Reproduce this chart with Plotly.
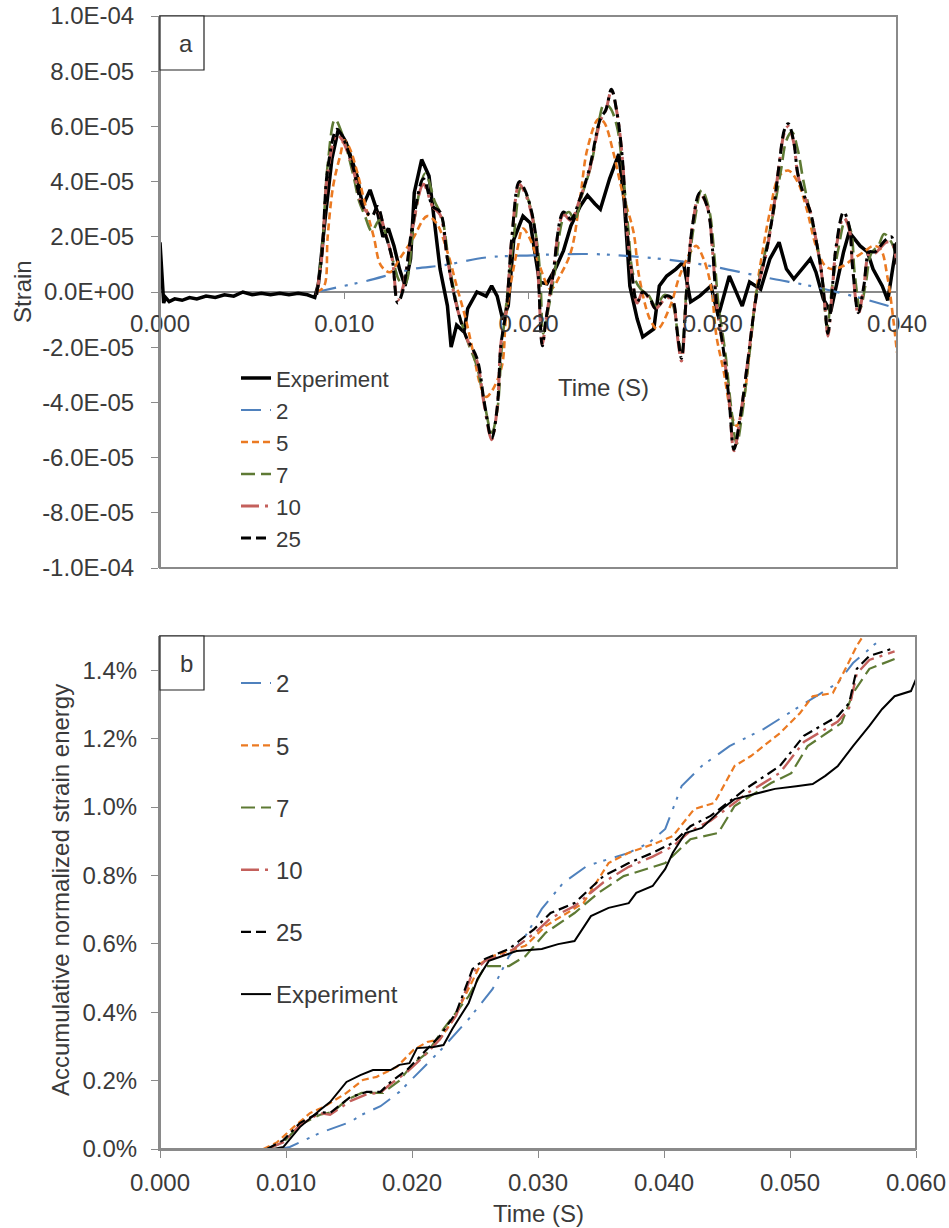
import numpy as np
import plotly.graph_objects as go

# ---------------- Panel (a): strain time history (time in ms, strain in 1e-5) ----------------
exp_a_t = [0.0, 0.1, 0.2, 0.3, 0.5, 0.8, 1.2, 1.6, 2.0, 2.5, 3.0, 3.5, 4.0, 4.5, 5.0, 5.5, 6.0, 6.5, 7.0, 7.5,
           8.0, 8.4, 8.6, 8.96, 9.33, 9.68, 10.1, 10.7, 11.0, 11.4, 11.8, 12.1, 12.4, 12.7, 13.0, 13.3, 13.6,
           13.8, 14.2, 14.6, 14.9, 15.2, 15.6, 15.8, 16.1, 16.5, 16.7, 17.2, 17.7, 18.0, 18.3, 18.6, 18.9,
           19.2, 19.7, 20.1, 20.4, 20.6, 21.0, 21.5, 21.9, 22.3, 22.8, 23.2, 23.6, 23.9, 24.4, 24.9, 25.2,
           25.5, 25.9, 26.2, 26.8, 27.1, 27.5, 28.0, 28.4, 28.8, 29.3, 29.9, 30.3, 30.9, 31.6, 32.0, 32.6,
           33.1, 33.6, 34.0, 34.4, 34.7, 35.3, 35.6, 36.0, 36.4, 36.7, 37.1, 37.4, 38.0, 38.4, 38.7, 39.2,
           39.5, 39.8, 40.0]
exp_a_v = [1.8, 0.5, -0.4, -0.2, -0.35, -0.25, -0.3, -0.2, -0.25, -0.15, -0.2, -0.1, -0.15, 0.0, -0.1, -0.05,
           -0.1, -0.05, -0.1, -0.05, -0.1, -0.2, 0.3, 2.64, 4.82, 5.9, 5.43, 4.2, 3.1, 3.7, 2.9, 2.0, 2.3, 1.67,
           0.83, 0.22, 1.2, 3.6, 4.8, 4.2, 2.4, 0.83, -0.5, -2.0, -1.2, -1.45, -0.6, 0.0, -0.15, 0.22, -0.15,
           -1.0, -0.5, 1.9, 2.75, 2.5, 1.2, 0.35, 0.3, 0.9, 1.5, 2.4, 3.1, 3.5, 3.2, 3.0, 4.1, 5.0, 3.26,
           0.22, -0.98, -1.63, -1.34, 0.22, 0.58, 0.83, 1.09, -0.36, -0.14, 0.22, -0.87, 0.58, -0.51, 0.36,
           0.1, 1.2, 1.8, 0.83, 0.47, 0.72, 1.2, 0.72, -0.25, -0.72, 0.22, 1.45, 2.17, 1.67, 1.45, 0.83,
           0.22, -0.3, 1.0, 1.8]

m2_a_t = [8.5, 9.5, 11.2, 13.7, 15.4, 17.7, 20.2, 21.9, 23.7, 25.5, 28.2, 30.2, 32.0, 33.3, 35.3, 37.8, 39.5, 40.0]
m2_a_v = [0.0, 0.15, 0.4, 0.83, 0.97, 1.25, 1.33, 1.37, 1.37, 1.3, 1.12, 0.9, 0.65, 0.47, 0.22, -0.18, -0.5, -0.6]

m5_a_t = [8.5, 8.9, 9.1, 9.4, 9.8, 10.0, 10.3, 10.7, 11.2, 11.6, 12.0, 12.5, 13.0, 13.7, 14.5, 15.0, 15.6,
          16.1, 16.6, 17.0, 17.4, 17.7, 18.0, 18.55, 18.8, 19.4, 19.7, 20.1, 20.6, 21.2, 21.7, 22.3, 22.8,
          23.2, 23.8, 24.1, 24.6, 25.1, 25.7, 26.0, 26.6, 27.0, 27.7, 28.2, 28.8, 29.1, 29.5, 29.9, 30.2,
          30.6, 31.0, 31.3, 31.7, 32.1, 32.4, 32.7, 33.1, 33.6, 34.1, 34.6, 35.1, 35.6, 36.1, 36.5, 37.1,
          37.6, 38.2, 38.7, 39.1, 39.5, 39.8, 40.0]
m5_a_v = [0.0, 0.2, 2.0, 3.85, 5.0, 5.5, 5.2, 4.35, 3.0, 2.0, 0.95, 0.72, 1.2, 1.9, 2.75, 2.5, 1.45,
          0.22, -1.0, -2.2, -3.4, -3.8, -3.6, -2.7, -0.74, 1.56, 2.3, 1.9, 0.95, 0.1, 0.58, 1.45, 3.4,
          5.2, 6.27, 6.15, 5.07, 3.6, 2.17, 0.58, -1.0, -1.34, -0.5, 0.58, 1.45, 1.67, 1.2, 0.22, -1.6,
          -2.9, -4.4, -4.85, -3.8, -1.5, 0.2, 1.45, 2.9, 4.2, 4.4, 4.0, 3.0, 1.67, 0.95, 0.83, 0.95,
          1.2, 1.45, 1.67, 1.56, 0.47, -1.0, -2.2]

m7_a_t = [8.5, 8.8, 9.1, 9.5, 9.9, 10.5, 10.8, 11.1, 11.5, 11.9, 12.3, 12.7, 13.0, 13.3, 13.8, 14.4, 14.9,
          15.3, 15.7, 16.2, 16.7, 17.2, 17.6, 18.0, 18.3, 18.55, 18.8, 19.2, 19.6, 19.9, 20.2, 20.5, 20.65,
          20.8, 21.0, 21.4, 21.9, 22.2, 22.5, 22.9, 23.4, 23.8, 24.1, 24.4, 24.8, 25.1, 25.4, 25.7, 26.1,
          26.5, 26.9, 27.4, 27.8, 28.1, 28.3, 28.6, 29.0, 29.4, 29.8, 30.1, 30.3, 30.7, 31.0, 31.3, 31.6,
          32.0, 32.4, 32.9, 33.3, 33.7, 34.0, 34.3, 34.6, 34.9, 35.3, 35.7, 36.0, 36.2, 36.5, 36.8, 37.2,
          37.5, 37.7, 38.0, 38.3, 38.6, 39.0, 39.3, 39.7, 40.0]
m7_a_v = [-0.1, 1.6, 4.6, 6.25, 5.7, 4.2, 3.3, 2.8, 2.2, 2.6, 2.0, 1.0, 0.4, 0.3, 2.6, 4.3, 3.3,
          2.7, 1.0, -0.7, -1.8, -2.7, -4.0, -5.1, -4.3, -2.0, -0.4, 2.0, 3.8, 3.5, 2.8, 1.6, 0.4,
          -1.5, -0.9, 0.6, 2.7, 2.9, 2.6, 3.5, 4.6, 6.1, 6.8, 6.7, 6.0, 4.5, 2.4, 0.6, 0.1,
          -0.1, -0.5, -0.1, -0.4, -1.5, -2.2, 0.3, 2.5, 3.7, 3.0, 1.2, -0.4, -2.3, -4.2, -5.5, -4.4,
          -2.2, 0.1, 1.6, 2.9, 4.4, 5.5, 5.8, 5.2, 4.1, 2.8, 1.6, 0.2, -1.3, 0.3, 1.5, 2.6,
          2.2, 0.7, -0.6, 0.3, 1.4, 1.7, 2.1, 1.8, 1.2]

m10_a_t = [8.5, 8.8, 9.1, 9.6, 9.9, 10.5, 11.0, 11.5, 11.8, 12.2, 12.6, 12.9, 13.2, 13.7, 14.3, 14.8, 15.2,
           15.6, 16.1, 16.6, 17.2, 17.6, 18.0, 18.3, 18.5, 18.8, 19.1, 19.5, 19.8, 20.1, 20.4, 20.55, 20.75,
           20.95, 21.3, 21.9, 22.3, 22.8, 23.3, 23.9, 24.2, 24.5, 24.8, 25.1, 25.3, 25.6, 25.9, 26.2, 26.6,
           26.9, 27.5, 27.8, 28.1, 28.3, 28.6, 28.9, 29.3, 29.7, 30.0, 30.2, 30.6, 30.9, 31.15, 31.5, 31.9,
           32.4, 32.9, 33.3, 33.6, 33.9, 34.1, 34.4, 34.6, 34.9, 35.3, 35.6, 35.9, 36.1, 36.25, 36.5, 36.7,
           37.1, 37.4, 37.6, 37.9, 38.2, 38.5, 38.8, 39.1, 39.4, 39.7, 39.9, 40.0]
m10_a_v = [-0.1, 1.4, 4.3, 5.7, 5.5, 4.4, 3.1, 2.8, 3.0, 2.2, 1.2, -0.3, 0.2, 2.3, 3.9, 3.1, 2.8,
           1.2, -0.5, -1.6, -2.5, -4.1, -5.35, -4.2, -1.9, -0.6, 2.0, 3.9, 3.6, 3.0, 1.9, 0.3, -1.9,
           -1.0, 0.5, 2.8, 2.6, 3.4, 4.4, 6.2, 6.6, 7.3, 6.5, 4.8, 2.6, 0.7, -0.4, 0.0, -0.3,
           -0.6, -0.2, -0.3, -1.7, -2.5, 0.2, 2.4, 3.55, 3.1, 1.4, -0.4, -2.2, -4.0, -5.75, -4.5, -2.5,
           0.0, 1.4, 3.0, 4.6, 5.8, 6.0, 5.4, 4.3, 3.6, 2.9, 1.9, 0.7, -0.6, -1.6, 0.2, 1.6,
           2.7, 2.3, 0.8, -0.8, 0.2, 1.4, 1.4, 1.6, 1.8, 1.8, 1.4, 1.0]

m25_a_t = [8.5, 8.8, 9.1, 9.6, 9.9, 10.5, 11.0, 11.5, 11.8, 12.2, 12.6, 12.9, 13.2, 13.7, 14.3, 14.8, 15.2,
           15.6, 16.1, 16.6, 17.2, 17.6, 18.0, 18.3, 18.5, 18.8, 19.1, 19.5, 19.8, 20.1, 20.4, 20.55, 20.75,
           20.95, 21.3, 21.9, 22.3, 22.8, 23.3, 23.9, 24.2, 24.5, 24.8, 25.1, 25.3, 25.6, 25.9, 26.2, 26.6,
           26.9, 27.5, 27.8, 28.1, 28.3, 28.6, 28.9, 29.3, 29.7, 30.0, 30.2, 30.6, 30.9, 31.15, 31.5, 31.9,
           32.4, 32.9, 33.3, 33.6, 33.9, 34.1, 34.4, 34.6, 34.9, 35.3, 35.6, 35.9, 36.1, 36.25, 36.5, 36.7,
           37.1, 37.4, 37.6, 37.9, 38.2, 38.5, 38.8, 39.1, 39.4, 39.7, 39.9, 40.0]
m25_a_v = [-0.1, 1.45, 4.45, 5.9, 5.65, 4.45, 3.1, 2.75, 3.1, 2.17, 1.2, -0.4, 0.1, 2.4, 4.1, 3.1, 2.9,
           1.2, -0.5, -1.6, -2.4, -4.0, -5.3, -4.2, -1.95, -0.6, 2.0, 4.0, 3.7, 3.1, 2.0, 0.36, -1.95,
           -1.0, 0.47, 2.9, 2.64, 3.4, 4.45, 6.27, 6.6, 7.35, 6.5, 4.8, 2.64, 0.72, -0.36, 0.0, -0.25,
           -0.6, -0.14, -0.25, -1.6, -2.4, 0.22, 2.4, 3.6, 3.1, 1.45, -0.36, -2.2, -4.0, -5.7, -4.5, -2.5,
           0.0, 1.45, 3.0, 4.6, 5.9, 6.1, 5.43, 4.35, 3.6, 2.9, 1.9, 0.72, -0.6, -1.5, 0.22, 1.67,
           2.9, 2.4, 0.83, -0.75, 0.22, 1.45, 1.45, 1.67, 1.9, 2.0, 1.45, 1.0]

strain_tickvals = [-1e-4, -8e-5, -6e-5, -4e-5, -2e-5, 0.0, 2e-5, 4e-5, 6e-5, 8e-5, 1e-4]
strain_ticktext = ["-1.0E-04", "-8.0E-05", "-6.0E-05", "-4.0E-05", "-2.0E-05", "0.0E+00",
                   "2.0E-05", "4.0E-05", "6.0E-05", "8.0E-05", "1.0E-04"]
time_a_ticks = [0.0, 0.01, 0.02, 0.03, 0.04]
time_a_labels = ["0.000", "0.010", "0.020", "0.030", "0.040"]

# ---------------- Panel (b): accumulative normalized strain energy (time in ms, %) ----------------
m2_b_t = [9.5, 10.3, 12.7, 15.1, 16.0, 17.5, 19.0, 20.4, 22.3, 24.5, 26.4, 27.7, 29.0, 30.3, 32.0, 33.9,
          35.6, 37.2, 38.8, 40.1, 41.4, 43.0, 45.2, 47.9, 50.8, 53.8, 55.0, 57.2, 57.6]
m2_b_v = [0.0, 0.006, 0.047, 0.079, 0.1, 0.125, 0.167, 0.22, 0.29, 0.38, 0.468, 0.564, 0.623, 0.702,
          0.778, 0.828, 0.848, 0.866, 0.895, 0.936, 1.061, 1.12, 1.178, 1.228, 1.295, 1.363, 1.421, 1.491, 1.52]

m5_b_t = [8.2, 9.3, 10.6, 11.9, 13.0, 14.8, 16.1, 17.2, 18.8, 20.1, 21.2, 22.2, 23.3, 24.5, 25.5, 26.4,
          29.0, 30.6, 32.3, 33.6, 35.6, 37.2, 39.4, 40.7, 42.4, 44.0, 45.6, 46.9, 49.2, 50.8, 51.8, 53.4,
          54.4, 55.3, 55.8, 56.3]
m5_b_v = [0.0, 0.02, 0.064, 0.105, 0.123, 0.164, 0.202, 0.211, 0.24, 0.289, 0.313, 0.32, 0.38, 0.468,
          0.544, 0.564, 0.594, 0.652, 0.69, 0.719, 0.836, 0.866, 0.895, 0.915, 0.994, 1.012, 1.12, 1.149,
          1.216, 1.275, 1.324, 1.333, 1.404, 1.471, 1.5, 1.54]

m7_b_t = [8.5, 9.8, 11.1, 12.7, 13.7, 14.8, 16.0, 17.7, 19.0, 20.1, 21.2, 22.5, 24.5, 25.8, 27.7, 29.0,
          30.6, 32.9, 34.8, 36.8, 40.1, 42.1, 44.3, 45.6, 48.5, 50.1, 51.4, 54.1, 55.0, 56.3, 58.3]
m7_b_v = [0.0, 0.02, 0.07, 0.1, 0.108, 0.143, 0.164, 0.164, 0.2, 0.25, 0.281, 0.351, 0.447, 0.535,
          0.535, 0.564, 0.632, 0.69, 0.749, 0.798, 0.836, 0.906, 0.924, 1.003, 1.07, 1.099, 1.178,
          1.246, 1.333, 1.404, 1.433]

m10_b_t = [8.5, 9.8, 11.1, 12.7, 13.5, 15.1, 16.4, 17.5, 18.3, 19.6, 20.9, 22.2, 23.5, 24.8, 25.8, 27.7,
           29.7, 31.0, 32.9, 35.2, 37.2, 39.1, 40.7, 42.1, 43.7, 46.6, 49.2, 51.1, 53.8, 54.7, 55.3, 56.3, 58.3]
m10_b_v = [0.0, 0.02, 0.07, 0.105, 0.1, 0.14, 0.16, 0.165, 0.19, 0.225, 0.27, 0.32, 0.39, 0.515, 0.55,
           0.575, 0.63, 0.675, 0.71, 0.78, 0.825, 0.855, 0.885, 0.93, 0.96, 1.04, 1.1, 1.19, 1.25, 1.29,
           1.39, 1.43, 1.455]

m25_b_t = [8.5, 9.8, 11.1, 12.7, 13.5, 15.1, 16.4, 17.5, 18.3, 19.6, 20.9, 22.2, 23.5, 24.8, 25.8, 27.7,
           29.7, 31.0, 32.9, 35.2, 37.2, 39.1, 40.7, 42.1, 43.7, 46.6, 49.2, 51.1, 53.8, 54.7, 55.3, 56.3, 58.3]
m25_b_v = [0.0, 0.026, 0.076, 0.108, 0.105, 0.152, 0.167, 0.167, 0.196, 0.231, 0.281, 0.33, 0.398, 0.526,
           0.556, 0.585, 0.643, 0.69, 0.719, 0.798, 0.836, 0.866, 0.895, 0.944, 0.974, 1.056, 1.12, 1.208,
           1.266, 1.304, 1.404, 1.442, 1.465]

exp_b_t = [8.2, 9.0, 9.8, 11.1, 12.7, 13.5, 14.8, 15.9, 16.9, 18.3, 19.0, 19.8, 20.4, 21.7, 22.5, 23.2,
           24.5, 25.2, 26.1, 27.1, 28.3, 30.3, 31.6, 32.9, 34.2, 35.6, 37.2, 37.8, 39.1, 40.1, 40.7, 41.7,
           43.0, 44.6, 45.6, 47.2, 48.8, 50.5, 51.8, 52.8, 53.8, 55.0, 56.3, 57.3, 58.3, 59.6, 60.0]
exp_b_v = [0.0, 0.0, 0.006, 0.064, 0.114, 0.137, 0.196, 0.216, 0.231, 0.231, 0.246, 0.251, 0.295, 0.298,
           0.304, 0.351, 0.427, 0.497, 0.55, 0.564, 0.579, 0.585, 0.599, 0.608, 0.681, 0.705, 0.719, 0.749,
           0.769, 0.819, 0.866, 0.924, 0.939, 0.994, 1.023, 1.038, 1.053, 1.061, 1.067, 1.091, 1.12, 1.178,
           1.237, 1.286, 1.324, 1.339, 1.374]

energy_tickvals = [0.0, 0.2, 0.4, 0.6, 0.8, 1.0, 1.2, 1.4]
energy_ticktext = ["0.0%", "0.2%", "0.4%", "0.6%", "0.8%", "1.0%", "1.2%", "1.4%"]
time_b_ticks = [0.0, 0.01, 0.02, 0.03, 0.04, 0.05, 0.06]
time_b_labels = ["0.000", "0.010", "0.020", "0.030", "0.040", "0.050", "0.060"]

# ---------------- styles ----------------
W, H = 949, 1228
FONT = "Liberation Sans, Arial, sans-serif"
TXT = "#3a3a3a"
AX = "#8a8a8a"
FS = 24

C_BLUE = "#4F81BD"
C_ORANGE = "#EB7A22"
C_GREEN = "#5E7A34"
C_RED = "#C4605C"
C_BLACK = "#000000"

D2 = "20px,9px,3px,7px,3px,9px"
D5 = "7px,4px"
D7 = "14px,6px"
D10 = "18px,6px,3px,6px"
D25 = "10px,5px,10px,5px,3px,5px"

def ms(v):
    return np.array(v) / 1000.0

def e5(v):
    return np.array(v) * 1e-5

def px_x(p):
    return p / W

def px_y(p):
    return 1 - p / H

fig = go.Figure()

# panel a traces
fig.add_trace(go.Scatter(x=ms(exp_a_t), y=e5(exp_a_v), name="Experiment", mode="lines",
                         line=dict(color=C_BLACK, width=3.5), xaxis="x", yaxis="y", legend="legend"))
fig.add_trace(go.Scatter(x=ms(m2_a_t), y=e5(m2_a_v), name="2", mode="lines", line_shape="spline",
                         line=dict(color=C_BLUE, width=2.2, dash=D2), xaxis="x", yaxis="y", legend="legend"))
fig.add_trace(go.Scatter(x=ms(m5_a_t), y=e5(m5_a_v), name="5", mode="lines", line_shape="spline",
                         line=dict(color=C_ORANGE, width=2.6, dash=D5), xaxis="x", yaxis="y", legend="legend"))
fig.add_trace(go.Scatter(x=ms(m7_a_t), y=e5(m7_a_v), name="7", mode="lines", line_shape="spline",
                         line=dict(color=C_GREEN, width=2.6, dash=D7), xaxis="x", yaxis="y", legend="legend"))
fig.add_trace(go.Scatter(x=ms(m10_a_t), y=e5(m10_a_v), name="10", mode="lines", line_shape="spline",
                         line=dict(color=C_RED, width=3.0, dash=D10), xaxis="x", yaxis="y", legend="legend"))
fig.add_trace(go.Scatter(x=ms(m25_a_t), y=e5(m25_a_v), name="25", mode="lines", line_shape="spline",
                         line=dict(color=C_BLACK, width=3.0, dash=D25), xaxis="x", yaxis="y", legend="legend"))

# panel b traces
b_specs = [
    (m2_b_t, m2_b_v, "2", C_BLUE, 2.0, D2),
    (m5_b_t, m5_b_v, "5", C_ORANGE, 2.2, D5),
    (m7_b_t, m7_b_v, "7", C_GREEN, 2.2, D7),
    (m10_b_t, m10_b_v, "10", C_RED, 2.4, D10),
    (m25_b_t, m25_b_v, "25", C_BLACK, 2.2, D25),
    (exp_b_t, exp_b_v, "Experiment", C_BLACK, 2.0, "solid"),
]
for t, v, name, col, wid, dash in b_specs:
    fig.add_trace(go.Scatter(x=ms(t), y=v, name=name, mode="lines",
                             line=dict(color=col, width=wid, dash=dash),
                             xaxis="x2", yaxis="y2", legend="legend2", legendgroup="b" + name))

# geometry
xa_dom = [px_x(160), px_x(897)]
ya_dom = [px_y(568), px_y(16)]
xb_dom = [px_x(160), px_x(916)]
yb_dom = [px_y(1149), px_y(636)]

tickfont = dict(family=FONT, size=FS, color=TXT)

fig.update_layout(
    width=W, height=H, autosize=False,
    margin=dict(l=0, r=0, t=0, b=0, pad=0, autoexpand=False),
    paper_bgcolor="white", plot_bgcolor="white",
    font=dict(family=FONT, size=FS, color=TXT),
    xaxis=dict(domain=xa_dom, range=[0, 0.04], anchor="free", position=(ya_dom[0] + ya_dom[1]) / 2,
               tickvals=time_a_ticks, ticktext=time_a_labels, ticks="outside", ticklen=6, tickcolor=AX,
               showline=False, showgrid=False, zeroline=False, tickfont=tickfont, ticklabelstandoff=4,
               automargin=False),
    yaxis=dict(domain=ya_dom, range=[-1e-4, 1e-4], anchor="x", tickvals=strain_tickvals,
               ticktext=strain_ticktext, ticks="outside", ticklen=7, tickcolor=AX, showline=True,
               linecolor=AX, linewidth=2, showgrid=False, zeroline=True, zerolinecolor=AX,
               zerolinewidth=1.5, tickfont=tickfont, ticklabelstandoff=12, automargin=False),
    xaxis2=dict(domain=xb_dom, range=[0, 0.06], anchor="y2", tickvals=time_b_ticks, ticktext=time_b_labels,
                ticks="outside", ticklen=7, tickcolor=AX, showline=True, linecolor=AX, linewidth=2,
                showgrid=False, zeroline=False, tickfont=tickfont, ticklabelstandoff=4, automargin=False),
    yaxis2=dict(domain=yb_dom, range=[0, 1.5], anchor="x2", tickvals=energy_tickvals,
                ticktext=energy_ticktext, ticks="outside", ticklen=7, tickcolor=AX, showline=True,
                linecolor=AX, linewidth=2, showgrid=False, zeroline=False, tickfont=tickfont,
                ticklabelstandoff=9, automargin=False),
    legend=dict(x=px_x(236), y=px_y(357), xanchor="left", yanchor="top", bgcolor="rgba(0,0,0,0)",
                font=dict(family=FONT, size=22.3, color=TXT), tracegroupgap=0, itemclick=False),
    legend2=dict(x=px_x(236), y=px_y(661), xanchor="left", yanchor="top", bgcolor="rgba(0,0,0,0)",
                 font=dict(family=FONT, size=FS, color=TXT), tracegroupgap=28, itemclick=False),
    showlegend=True,
)

# plot-area frames
fig.add_shape(type="rect", xref="x domain", yref="y domain", x0=0, x1=1, y0=0, y1=1,
              line=dict(color=AX, width=2), layer="above")
fig.add_shape(type="rect", xref="x2 domain", yref="y2 domain", x0=0, x1=1, y0=0, y1=1,
              line=dict(color=AX, width=2), layer="above")

def note(x, y, text, angle=0):
    fig.add_annotation(x=px_x(x), y=px_y(y), xref="paper", yref="paper", text=text, textangle=angle,
                       xanchor="center", yanchor="middle", showarrow=False,
                       font=dict(family=FONT, size=FS, color=TXT))

# panel label boxes
for label, top in (("a", 16), ("b", 636)):
    fig.add_shape(type="rect", xref="paper", yref="paper", x0=px_x(160), x1=px_x(204),
                  y0=px_y(top + 54), y1=px_y(top), line=dict(color="#222222", width=1.2),
                  fillcolor="white", layer="above")
    note(186, top + 27, label)

# axis titles
note(22, 292, "Strain", -90)
note(603, 387, "Time (S)")
note(60, 890, "Accumulative normalized strain energy", -90)
note(538, 1213, "Time (S)")

fig.write_html("out.html")
